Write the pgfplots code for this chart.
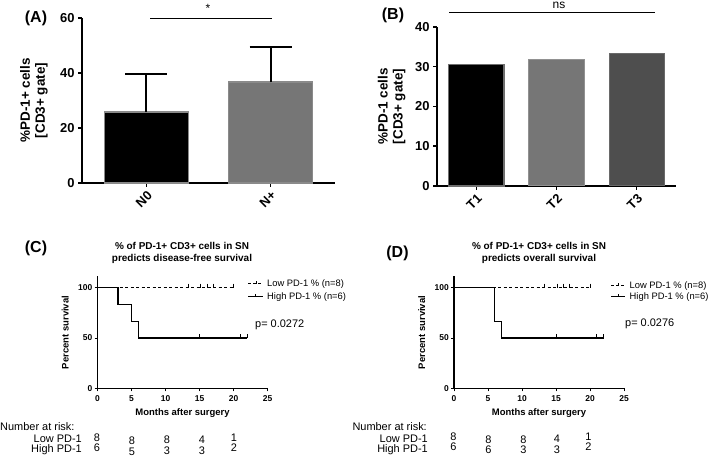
\documentclass[border=0pt]{standalone}
\usepackage{pgfplots}
\pgfplotsset{compat=1.18}
\usepackage{fontspec}
\setmainfont{Liberation Sans}

\definecolor{edgeA}{HTML}{8A8A8A}
\definecolor{barGray}{HTML}{767676}
\definecolor{barDark}{HTML}{4E4E4E}

\pgfplotsset{
  barax/.style={scale only axis, axis lines=left, axis line style={-, line width=1.8bp},
    tick align=outside, major tick length=4bp, every tick/.style={black, line width=1.5bp},
    tick label style={font=\fontsize{13}{13}\selectfont\bfseries},
    /pgf/number format/assume math mode=true,
    x tick label style={rotate=45, anchor=north east, inner sep=2bp},
    ymin=0, clip=false,
    label style={font=\fontsize{13.5}{15}\selectfont\bfseries, align=center},
    ylabel style={at={(axis description cs:-0.19,0.5)}, anchor=center}},
  kmax/.style={scale only axis, width=170bp, height=112bp,
    xmin=0, xmax=25, ymin=0, ymax=111,
    axis lines=left, axis line style={-, line width=1.3bp},
    tick align=outside, major tick length=3bp, every tick/.style={black, line width=1bp},
    xtick={0,5,...,25}, ytick={0,50,100},
    tick label style={font=\fontsize{8.5}{9}\selectfont\bfseries, inner sep=2bp},
    x tick label style={yshift=-1.5bp},
    /pgf/number format/assume math mode=true,
    label style={font=\fontsize{9.5}{10}\selectfont\bfseries},
    xlabel={Months after surgery}, ylabel={Percent survival},
    xlabel style={at={(axis description cs:0.5,-0.22)}, anchor=center},
    ylabel style={at={(axis description cs:-0.19,0.5)}, anchor=center},
    clip=false},
  cens/.style={only marks, mark=|, mark size=2bp, mark options={yshift=2bp, line width=0.8bp, black}},
}

\begin{document}
\begin{tikzpicture}[x=1bp, y=1bp]
\path[use as bounding box] (0,0) rectangle (709,458);

% ---------------- Panel A ----------------
\begin{axis}[barax, at={(82bp,275bp)}, anchor=south west, width=253bp, height=165bp,
  ymax=60, ytick={0,20,40,60}, xmin=-0.52, xmax=1.52, xtick={0,1}, xticklabels={N0,N+},
  ylabel={\%PD-1+ cells\\{[CD3+ gate]}}]
\addplot[ybar, bar width=0.68, bar shift=0pt, fill=black, draw=edgeA, line width=1.5bp,
  error bars/.cd, y dir=plus, y explicit,
  error bar style={line width=2bp, black},
  error mark options={rotate=90, mark size=21bp, line width=2bp, black}]
  coordinates {(0,25.8) +- (0,13.8)};
\addplot[ybar, bar width=0.68, bar shift=0pt, fill=barGray, draw=edgeA, line width=1.5bp,
  error bars/.cd, y dir=plus, y explicit,
  error bar style={line width=2bp, black},
  error mark options={rotate=90, mark size=21bp, line width=2bp, black}]
  coordinates {(1,36.7) +- (0,12.9)};
\end{axis}
\node[font=\fontsize{16}{16}\selectfont\bfseries] at (36,440) {(A)};
\draw[line width=0.8bp] (150,440) -- (272,440);
\node[font=\fontsize{12}{12}\selectfont] at (208,450) {*};

% ---------------- Panel B ----------------
\begin{axis}[barax, at={(437bp,272bp)}, anchor=south west, width=239bp, height=159bp,
  ymax=40, ytick={0,10,...,40}, xmin=-0.49, xmax=2.49, xtick={0,1,2}, xticklabels={T1,T2,T3},
  ylabel={\%PD-1 cells\\{[CD3+ gate]}}]
\addplot[ybar, bar width=0.69, bar shift=0pt, fill=black, draw=edgeA!80!black, line width=1.5bp]
  coordinates {(0,30.6)};
\addplot[ybar, bar width=0.69, bar shift=0pt, fill=barGray, draw=barGray!80!white, line width=1bp]
  coordinates {(1,31.9)};
\addplot[ybar, bar width=0.69, bar shift=0pt, fill=barDark, draw=barDark!85!white, line width=1bp]
  coordinates {(2,33.4)};
\end{axis}
\node[font=\fontsize{16}{16}\selectfont\bfseries] at (393,443) {(B)};
\draw[line width=0.8bp] (449,445.3) -- (655,445.3);
\node[font=\fontsize{12}{12}\selectfont] at (559,453) {ns};

% ---------------- Panel C ----------------
\begin{axis}[kmax, at={(97.5bp,69.5bp)}, anchor=south west]
\addplot[line width=1.2bp, dash pattern=on 3bp off 2.5bp] coordinates {(0,100) (20,100)};
\addplot[cens] coordinates {(13.3,100) (15.2,100) (16.1,100) (17,100) (20,100)};
\addplot[const plot, line width=1.3bp] coordinates {(0,100) (3,83.33) (5,66.67) (6,50) (22,50)};
\addplot[cens] coordinates {(15,50) (21,50) (22,50)};
\end{axis}
\node[font=\fontsize{16}{16}\selectfont\bfseries] at (36,210) {(C)};
\node[font=\fontsize{10}{10}\selectfont\bfseries, inner sep=0pt] at (182,212) {\% of PD-1+ CD3+ cells in SN};
\node[font=\fontsize{10}{10}\selectfont\bfseries, inner sep=0pt] at (182,199) {predicts disease-free survival};
% legend C
\draw[line width=1bp, dash pattern=on 3bp off 2bp] (248,174) -- (263,174);
\draw[line width=0.8bp] (256,174) -- (256,177);
\draw[line width=1bp] (248,161) -- (263,161);
\draw[line width=0.8bp] (255.5,161) -- (255.5,164);
\node[anchor=west, font=\fontsize{9.4}{10}\selectfont, inner sep=0pt] at (267,174) {Low PD-1 \% (n=8)};
\node[anchor=west, font=\fontsize{9.4}{10}\selectfont, inner sep=0pt] at (267,161) {High PD-1 \% (n=6)};
\node[anchor=west, font=\fontsize{11}{11}\selectfont, inner sep=0pt] at (255,133) {p= 0.0272};
% risk table C
\begin{scope}[font=\fontsize{11}{11}\selectfont]
\node[anchor=west, inner sep=0pt] at (0,31) {Number at risk:};
\node[anchor=east, inner sep=0pt] at (82,19) {Low PD-1};
\node[anchor=east, inner sep=0pt] at (82,8) {High PD-1};
\node at (97,20) {8}; \node at (132,17.3) {8}; \node at (167,18) {8}; \node at (202,18) {4}; \node at (234,20) {1};
\node at (97,10) {6}; \node at (132,6.3) {5}; \node at (167,7.3) {3}; \node at (202,7.3) {3}; \node at (234,10) {2};
\end{scope}

% ---------------- Panel D ----------------
\begin{axis}[kmax, at={(454bp,69.5bp)}, anchor=south west]
\addplot[line width=1.2bp, dash pattern=on 3bp off 2.5bp] coordinates {(0,100) (20,100)};
\addplot[cens] coordinates {(13.3,100) (15.2,100) (16.1,100) (17,100) (20,100)};
\addplot[const plot, line width=1.3bp] coordinates {(0,100) (6,66.67) (7,50) (22,50)};
\addplot[cens] coordinates {(15,50) (21,50) (22,50)};
\end{axis}
\node[font=\fontsize{16}{16}\selectfont\bfseries] at (397.5,205) {(D)};
\node[font=\fontsize{10}{10}\selectfont\bfseries, inner sep=0pt] at (539,212) {\% of PD-1+ CD3+ cells in SN};
\node[font=\fontsize{10}{10}\selectfont\bfseries, inner sep=0pt] at (539,199) {predicts overall survival};
% legend D
\draw[line width=1bp, dash pattern=on 3bp off 2bp] (611,172) -- (625,172);
\draw[line width=0.8bp] (618.5,172) -- (618.5,175);
\draw[line width=1bp] (611,161) -- (625,161);
\draw[line width=0.8bp] (618,161) -- (618,164);
\node[anchor=west, font=\fontsize{9.4}{10}\selectfont, inner sep=0pt] at (629.5,172) {Low PD-1 \% (n=8)};
\node[anchor=west, font=\fontsize{9.4}{10}\selectfont, inner sep=0pt] at (629.5,161) {High PD-1 \% (n=6)};
\node[anchor=west, font=\fontsize{11}{11}\selectfont, inner sep=0pt] at (625,134) {p= 0.0276};
% risk table D
\begin{scope}[font=\fontsize{11}{11}\selectfont]
\node[anchor=east, inner sep=0pt] at (427,31) {Number at risk:};
\node[anchor=east, inner sep=0pt] at (428,19) {Low PD-1};
\node[anchor=east, inner sep=0pt] at (428,8) {High PD-1};
\node at (453.3,21.3) {8}; \node at (488.3,18.7) {8}; \node at (523.3,18.7) {8}; \node at (557,19.7) {4}; \node at (588.3,21.3) {1};
\node at (453.3,11.3) {6}; \node at (488.3,8) {6}; \node at (523.3,8) {3}; \node at (557,8) {3}; \node at (588.3,11.3) {2};
\end{scope}
\end{tikzpicture}
\end{document}
